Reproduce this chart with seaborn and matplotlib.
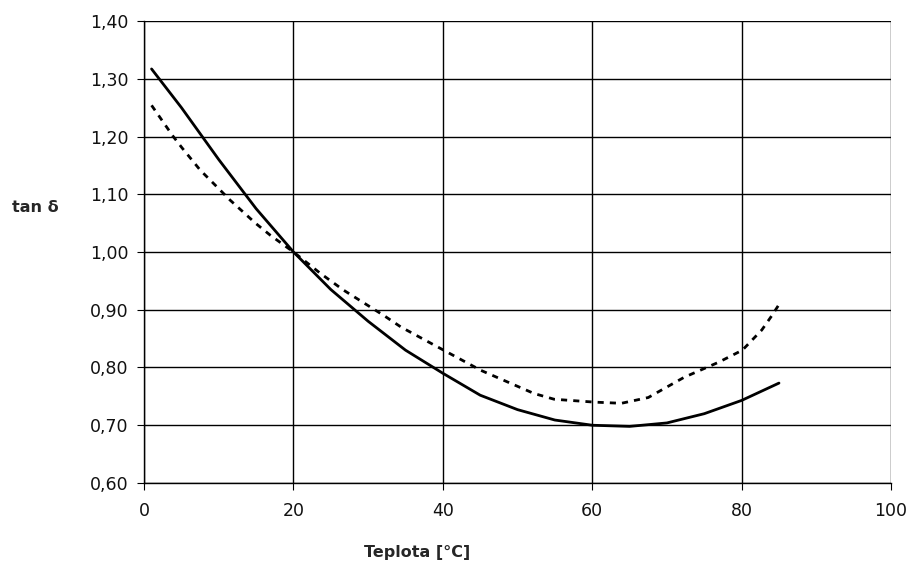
import numpy as np
import pandas as pd
import matplotlib
matplotlib.use("Agg")
import matplotlib.pyplot as plt
import seaborn as sns

# Values
temp_solid = [1, 5, 10, 15, 20, 25, 30, 35, 40, 45, 50, 55, 60, 65, 70, 75, 80, 85]
tan_solid = [1.317, 1.25, 1.16, 1.075, 1.00, 0.935, 0.88, 0.83, 0.79, 0.752, 0.727, 0.709, 0.700, 0.698, 0.704, 0.72, 0.743, 0.773]

temp_dash = [1, 3.9, 5.1, 7.5, 10.2, 11.5, 14.9, 16.9, 20, 23.6, 26.7, 32.1, 34.4, 40.1, 45.1, 52.2, 54.9, 60.3, 63.9, 67.5, 72.3, 76.9, 80.1, 82.7, 84, 85.2]
tan_dash = [1.254, 1.20, 1.18, 1.142, 1.107, 1.09, 1.05, 1.029, 1.00, 0.963, 0.934, 0.89, 0.87, 0.83, 0.795, 0.755, 0.745, 0.740, 0.738, 0.748, 0.783, 0.809, 0.83, 0.865, 0.889, 0.913]

x_ticks = [0, 20, 40, 60, 80, 100]
y_ticks = [0.60, 0.70, 0.80, 0.90, 1.00, 1.10, 1.20, 1.30, 1.40]
y_labels = ["0,60", "0,70", "0,80", "0,90", "1,00", "1,10", "1,20", "1,30", "1,40"]

sns.set_style("ticks")
plt.rcParams['font.family'] = ['DejaVu Sans']

fig = plt.figure(figsize=(9.12, 5.62), dpi=100)
ax = fig.add_axes([0.158, 0.1406, 0.819, 0.822])

sns.lineplot(x=temp_solid, y=tan_solid, ax=ax, color="black", linewidth=2.0)
sns.lineplot(x=temp_dash, y=tan_dash, ax=ax, color="black", linewidth=2.0, linestyle=(0, (2.2, 2.2)))

ax.set_xlim(0, 100)
ax.set_ylim(0.60, 1.40)
ax.set_xticks(x_ticks)
ax.set_xticklabels([str(t) for t in x_ticks])
ax.set_yticks(y_ticks)
ax.set_yticklabels(y_labels)
ax.tick_params(labelsize=12.5, length=5, color="black", labelcolor="#111111")
ax.tick_params(axis="x", pad=9)
ax.tick_params(axis="y", pad=6)

ax.grid(True, color="black", linewidth=1.0)
ax.set_axisbelow(True)
for side in ["top", "right"]:
    ax.spines[side].set_visible(False)
for side in ["left", "bottom"]:
    ax.spines[side].set_color("black")
    ax.spines[side].set_linewidth(1.0)

ax.set_xlabel("")
ax.set_ylabel("")
fig.text(417 / 912, 1 - 552 / 562, "Teplota [°C]", fontsize=11.5, fontweight="bold", ha="center", va="center")
fig.text(35 / 912, 1 - 207 / 562, "tan δ", fontsize=11.5, fontweight="bold", ha="center", va="center")

fig.savefig("out.png", dpi=100)
